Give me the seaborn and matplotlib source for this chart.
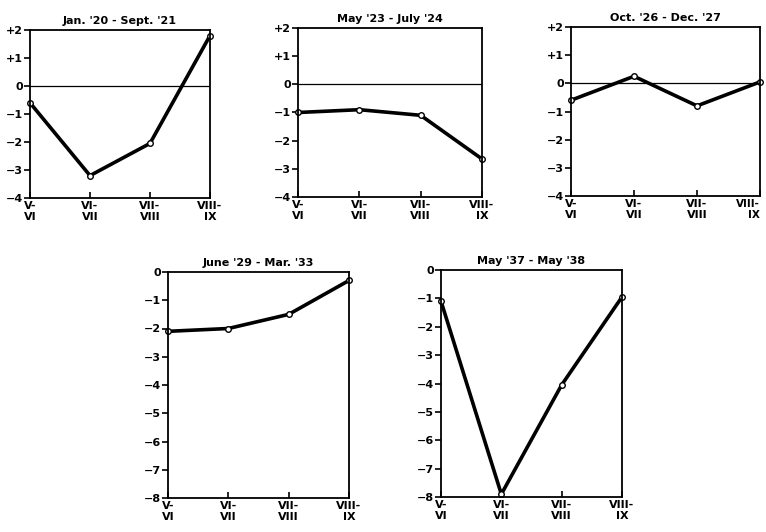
import pandas as pd
import matplotlib
matplotlib.use('Agg')
import matplotlib.pyplot as plt
import seaborn as sns

# month pairs on the x axis
periods = ['V-\nVI', 'VI-\nVII', 'VII-\nVIII', 'VIII-\nIX']

titles = ["Jan. '20 - Sept. '21", "May '23 - July '24", "Oct. '26 - Dec. '27",
          "June '29 - Mar. '33", "May '37 - May '38"]

jan20_sep21 = [-0.6, -3.2, -2.05, 1.8]
may23_jul24 = [-1.0, -0.9, -1.1, -2.65]
oct26_dec27 = [-0.6, 0.25, -0.8, 0.05]
jun29_mar33 = [-2.1, -2.0, -1.5, -0.3]
may37_may38 = [-1.1, -7.9, -4.05, -0.95]

top_ticks = [2, 1, 0, -1, -2, -3, -4]
bottom_ticks = [0, -1, -2, -3, -4, -5, -6, -7, -8]

sns.set_style('ticks')
plt.rcParams['font.family'] = ['DejaVu Sans']
plt.rcParams['font.weight'] = 'bold'
plt.rcParams['text.color'] = 'black'
plt.rcParams['xtick.color'] = 'black'
plt.rcParams['ytick.color'] = 'black'
plt.rcParams['axes.titlecolor'] = 'black'

fig = plt.figure(figsize=(7.66, 5.32), dpi=100)

# axes boxes in pixels: left, top, right, bottom
boxes = [(30, 30, 210, 198), (298, 28, 482, 197), (571, 27, 760, 196),
         (168, 272, 349, 498), (441, 270, 622, 497)]
series = [jan20_sep21, may23_jul24, oct26_dec27, jun29_mar33, may37_may38]


def tick_label(v):
    if v > 0:
        return f'+{v}'
    if v < 0:
        return f'\u2212{abs(v)}'
    return '0'


for i, (box, values, title) in enumerate(zip(boxes, series, titles)):
    l, t, r, b = box
    ax = fig.add_axes([l / 766, 1 - b / 532, (r - l) / 766, (b - t) / 532])
    df = pd.DataFrame({'period': periods, 'value': values})
    df['x'] = range(len(periods))
    sns.lineplot(data=df, x='x', y='value', ax=ax, color='black', linewidth=2.6,
                 marker='o', markersize=4, markerfacecolor='white',
                 markeredgecolor='black', markeredgewidth=1.0, clip_on=False)
    ax.set_xlim(0, 3)
    if i < 3:
        ax.set_ylim(-4, 2)
        ax.axhline(0, color='black', linewidth=0.9)
        ticks = top_ticks
    else:
        ax.set_ylim(-8, 0)
        ticks = bottom_ticks
    ax.set_yticks(ticks)
    ax.set_yticklabels([tick_label(v) for v in ticks], fontsize=8, fontweight='bold')
    ax.set_xticks(range(len(periods)))
    labels = ax.set_xticklabels(periods, fontsize=8, fontweight='bold', linespacing=1.1)
    if i == 2:
        # keep the last label inside the figure edge
        labels[-1].set_fontsize(7.5)
        labels[-1].set_horizontalalignment('right')
        labels[-1].set_x(3.03)
    ax.tick_params(axis='x', direction='in', length=4, width=1.2, pad=2)
    ax.tick_params(axis='y', direction='out', length=4, width=1.2, pad=1)
    for s in ax.spines.values():
        s.set_linewidth(1.3)
        s.set_color('black')
    ax.set_xlabel('')
    ax.set_ylabel('')
    ax.set_title(title, fontsize=8, fontweight='bold', pad=4)

fig.savefig('out.png', dpi=100)
